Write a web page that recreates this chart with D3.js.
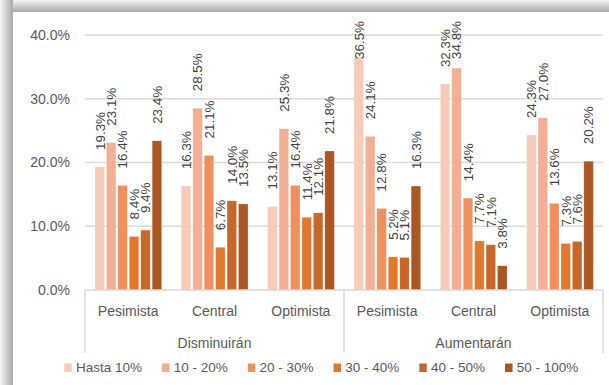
<!DOCTYPE html>
<html>
<head>
<meta charset="utf-8">
<script src="https://cdn.jsdelivr.net/npm/d3@7"></script>
<style>
  html, body { margin: 0; padding: 0; background: #fff; }
  svg { display: block; }
  text { font-family: "Liberation Sans", Arial, sans-serif; }
</style>
</head>
<body>
<svg id="chart" width="609" height="385"></svg>
<script>
// ---- data ----
const groups = ["Disminuirán", "Aumentarán"];
const scenarios = ["Pesimista", "Central", "Optimista"];
const seriesNames = ["Hasta 10%", "10 - 20%", "20 - 30%", "30 - 40%", "40 - 50%", "50 - 100%"];
// values per category in order: Dis-Pes, Dis-Cen, Dis-Opt, Aum-Pes, Aum-Cen, Aum-Opt
const hasta10 = [19.3, 16.3, 13.1, 36.5, 32.3, 24.3];
const s10_20  = [23.1, 28.5, 25.3, 24.1, 34.8, 27.0];
const s20_30  = [16.4, 21.1, 16.4, 12.8, 14.4, 13.6];
const s30_40  = [8.4, 6.7, 11.4, 5.2, 7.7, 7.3];
const s40_50  = [9.4, 14.0, 12.1, 5.1, 7.1, 7.6];
const s50_100 = [23.4, 13.5, 21.8, 16.3, 3.8, 20.2];
const yTicks = [0, 10, 20, 30, 40];
const colors = ["#F7CBBA", "#F3AF93", "#EF905F", "#E0782E", "#C8672A", "#AC5622"];

const seriesValues = [hasta10, s10_20, s20_30, s30_40, s40_50, s50_100];
const categories = [];
groups.forEach((g, gi) => scenarios.forEach((s, si) => categories.push({ group: g, gi, scen: s, idx: gi * scenarios.length + si })));

const svg = d3.select("#chart");

// ---- frame with shadow ----
const defs = svg.append("defs");
const gTop = defs.append("linearGradient").attr("id", "shTop").attr("x1", 0).attr("y1", 0).attr("x2", 0).attr("y2", 1);
gTop.append("stop").attr("offset", "0%").attr("stop-color", "#f4f4f4");
gTop.append("stop").attr("offset", "100%").attr("stop-color", "#a9a9a9");
const gLeft = defs.append("linearGradient").attr("id", "shLeft").attr("x1", 0).attr("y1", 0).attr("x2", 1).attr("y2", 0);
gLeft.append("stop").attr("offset", "0%").attr("stop-color", "#f4f4f4");
gLeft.append("stop").attr("offset", "100%").attr("stop-color", "#a9a9a9");
svg.append("rect").attr("x", 0).attr("y", 0).attr("width", 609).attr("height", 12).attr("fill", "url(#shTop)");
svg.append("rect").attr("x", 0).attr("y", 0).attr("width", 13).attr("height", 385).attr("fill", "url(#shLeft)");
svg.append("rect").attr("x", 13).attr("y", 12).attr("width", 596).attr("height", 373).attr("fill", "#fff");

// ---- scales ----
const plotL = 85, plotR = 603, plotT = 35, plotB = 290;
const y = d3.scaleLinear().domain([0, 40]).range([plotB, plotT]);
const x0 = d3.scaleBand().domain(categories.map(c => c.idx)).range([plotL, plotR]).padding(0);
const cw = x0.bandwidth();
const x1 = d3.scaleBand().domain(d3.range(seriesNames.length)).range([cw * 0.116, cw * 0.888]).paddingInner(0.17).paddingOuter(0);

// ---- gridlines ----
svg.append("g").selectAll("line").data(yTicks.filter(t => t > 0)).join("line")
  .attr("x1", plotL).attr("x2", plotR)
  .attr("y1", d => y(d)).attr("y2", d => y(d))
  .attr("stroke", "#D9D9D9").attr("stroke-width", 1.5);

// ---- y axis labels ----
const yAxis = d3.axisLeft(y).tickValues(yTicks).tickSize(0).tickPadding(0).tickFormat(d => d.toFixed(1) + "%");
const yg = svg.append("g").attr("transform", `translate(${plotL - 15},0)`).call(yAxis);
yg.select(".domain").remove();
yg.selectAll("text").attr("font-size", "14px").attr("fill", "#595959")
  .attr("font-family", "Liberation Sans, Arial, sans-serif");

// ---- bars ----
const barG = svg.append("g");
const flat = [];
categories.forEach(c => seriesValues.forEach((vals, si) => flat.push({ c, si, v: vals[c.idx] })));
barG.selectAll("rect").data(flat).join("rect")
  .attr("x", d => x0(d.c.idx) + x1(d.si))
  .attr("width", x1.bandwidth())
  .attr("y", d => y(d.v))
  .attr("height", d => y(0) - y(d.v))
  .attr("fill", d => colors[d.si])
  .attr("stroke", "#ffffff").attr("stroke-opacity", 0.35).attr("stroke-width", 0.6);

// ---- data labels ----
const lblG = svg.append("g");
flat.forEach(d => {
  const cx = x0(d.c.idx) + x1(d.si) + x1.bandwidth() / 2;
  const t = lblG.append("text")
    .attr("font-size", "13.4px").attr("fill", "#404040")
    .attr("text-anchor", "start").attr("dy", "0.36em")
    .text(d.v.toFixed(1) + "%");
  const len = t.node().getComputedTextLength();
  let bottom = y(d.v) - 17;
  if (bottom - len < 21) bottom = 21 + len;
  t.attr("transform", `translate(${cx},${bottom}) rotate(-90)`);
});

// ---- x axis ----
const axG = svg.append("g");
axG.append("line").attr("x1", plotL).attr("x2", plotR).attr("y1", plotB).attr("y2", plotB)
  .attr("stroke", "#D9D9D9").attr("stroke-width", 1.5);
const xAxis = d3.axisBottom(x0).tickSize(0).tickPadding(0).tickFormat(i => categories[i].scen);
const xg = svg.append("g").attr("transform", `translate(0,${plotB + 21})`).call(xAxis);
xg.select(".domain").remove();
xg.selectAll("text").attr("font-size", "14px").attr("fill", "#595959").attr("dy", "0.35em")
  .attr("font-family", "Liberation Sans, Arial, sans-serif");

// group separators
const groupW = (plotR - plotL) / groups.length;
d3.range(groups.length + 1).forEach(i => {
  const xx = plotL + i * groupW;
  axG.append("line").attr("x1", xx).attr("x2", xx).attr("y1", plotB).attr("y2", 353)
    .attr("stroke", "#D9D9D9").attr("stroke-width", 1.5);
});
groups.forEach((g, i) => {
  axG.append("text").attr("x", plotL + (i + 0.5) * groupW).attr("y", 347.5)
    .attr("text-anchor", "middle").attr("font-size", "14px").attr("fill", "#595959").text(g);
});

// ---- legend ----
const legG = svg.append("g");
let lx = 64.3;
seriesNames.forEach((n, i) => {
  legG.append("rect").attr("x", lx).attr("y", 363.5).attr("width", 7.5).attr("height", 8.5).attr("fill", colors[i]);
  const t = legG.append("text").attr("x", lx + 11.7).attr("y", 372).attr("font-size", "13.5px").attr("fill", "#595959").text(n);
  lx += 11.7 + t.node().getComputedTextLength() + 20;
});
</script>
</body>
</html>
